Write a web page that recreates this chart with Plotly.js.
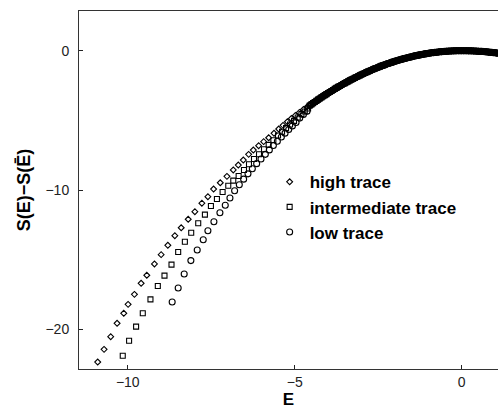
<!DOCTYPE html>
<html>
<head>
<meta charset="utf-8">
<script src="https://cdn.plot.ly/plotly-3.0.1.min.js"></script>
<style>html,body{margin:0;padding:0;background:#fff;}#chart{width:498px;height:409px;}</style>
</head>
<body>
<div id="chart"></div>
<script>
// shared part of all three traces (they coincide here)
var tailE = [-4.55,-4.50,-4.45,-4.40,-4.35,-4.30,-4.25,-4.20,-4.15,-4.10,-4.05,-4.00,-3.95,-3.90,-3.85,-3.80,-3.75,-3.70,-3.65,-3.60,-3.55,-3.50,-3.45,-3.40,-3.35,-3.30,-3.25,-3.20,-3.15,-3.10,-3.05,-3.00,-2.95,-2.90,-2.85,-2.80,-2.75,-2.70,-2.65,-2.60,-2.55,-2.50,-2.45,-2.40,-2.35,-2.30,-2.25,-2.20,-2.15,-2.10,-2.05,-2.00,-1.95,-1.90,-1.85,-1.80,-1.75,-1.70,-1.65,-1.60,-1.55,-1.50,-1.45,-1.40,-1.35,-1.30,-1.25,-1.20,-1.15,-1.10,-1.05,-1.00,-0.95,-0.90,-0.85,-0.80,-0.75,-0.70,-0.65,-0.60,-0.55,-0.50,-0.45,-0.40,-0.35,-0.30,-0.25,-0.20,-0.15,-0.10,-0.05,0,0.05,0.10,0.15,0.20,0.25,0.30,0.35,0.40,0.45,0.50,0.55,0.60,0.65,0.70,0.75,0.80,0.85,0.90,0.95,1.00,1.05,1.10];
var tailS = [-3.93,-3.85,-3.76,-3.68,-3.60,-3.51,-3.43,-3.35,-3.27,-3.19,-3.12,-3.04,-2.96,-2.89,-2.82,-2.74,-2.67,-2.60,-2.53,-2.46,-2.39,-2.33,-2.26,-2.20,-2.13,-2.07,-2.01,-1.95,-1.89,-1.83,-1.77,-1.71,-1.65,-1.60,-1.54,-1.49,-1.44,-1.39,-1.33,-1.28,-1.24,-1.19,-1.14,-1.09,-1.05,-1.01,-0.96,-0.92,-0.88,-0.84,-0.80,-0.76,-0.72,-0.69,-0.65,-0.62,-0.58,-0.55,-0.52,-0.49,-0.46,-0.43,-0.40,-0.37,-0.35,-0.32,-0.30,-0.27,-0.25,-0.23,-0.21,-0.19,-0.17,-0.15,-0.14,-0.12,-0.11,-0.09,-0.08,-0.07,-0.06,-0.05,-0.04,-0.03,-0.02,-0.02,-0.01,-0.01,0,0,0,0,0,0,0,-0.01,-0.01,-0.01,-0.02,-0.02,-0.03,-0.04,-0.05,-0.05,-0.06,-0.07,-0.08,-0.10,-0.11,-0.12,-0.14,-0.15,-0.17,-0.18];

var highE = [-10.90,-10.71,-10.51,-10.32,-10.12,-9.99,-9.80,-9.60,-9.43,-9.20,-9.00,-8.80,-8.59,-8.40,-8.19,-7.99,-7.78,-7.60,-7.43,-7.23,-7.03,-6.84,-6.69,-6.54,-6.38,-6.24,-6.08,-5.93,-5.78,-5.62,-5.48,-5.35,-5.22,-5.10,-4.98,-4.86,-4.74,-4.63];
var highS = [-22.35,-21.44,-20.53,-19.57,-18.85,-18.21,-17.49,-16.70,-16.12,-15.31,-14.64,-13.97,-13.28,-12.71,-12.10,-11.56,-10.95,-10.48,-9.93,-9.48,-9.02,-8.56,-8.21,-7.85,-7.44,-7.13,-6.82,-6.53,-6.25,-5.93,-5.62,-5.36,-5.10,-4.87,-4.65,-4.43,-4.22,-4.03];

var midE = [-10.15,-9.96,-9.75,-9.55,-9.32,-9.10,-8.90,-8.69,-8.49,-8.29,-8.10,-7.89,-7.69,-7.51,-7.33,-7.16,-6.99,-6.84,-6.68,-6.52,-6.37,-6.22,-6.07,-5.92,-5.78,-5.64,-5.50,-5.38,-5.26,-5.14,-5.02,-4.91,-4.80,-4.70,-4.60];
var midS = [-21.90,-20.82,-19.81,-18.85,-17.85,-16.89,-16.15,-15.36,-14.45,-13.71,-13.07,-12.39,-11.77,-11.15,-10.65,-10.14,-9.69,-9.33,-8.99,-8.56,-8.15,-7.77,-7.43,-7.08,-6.76,-6.43,-6.09,-5.82,-5.56,-5.30,-5.04,-4.80,-4.55,-4.36,-4.15];

var lowE = [-8.67,-8.49,-8.31,-8.11,-7.92,-7.74,-7.60,-7.42,-7.24,-7.08,-6.94,-6.80,-6.66,-6.53,-6.40,-6.27,-6.14,-6.01,-5.88,-5.76,-5.64,-5.52,-5.40,-5.29,-5.18,-5.07,-4.96,-4.85,-4.74,-4.63];
var lowS = [-18.04,-17.03,-16.03,-15.07,-14.31,-13.57,-12.92,-12.28,-11.63,-11.10,-10.57,-10.05,-9.62,-9.22,-8.84,-8.47,-8.11,-7.77,-7.44,-7.12,-6.81,-6.50,-6.20,-5.92,-5.66,-5.40,-5.15,-4.84,-4.58,-4.34];

var names = ['high trace','intermediate trace','low trace'];
var xTicks = [-10,-5,0];
var yTicks = [-20,-10,0];

var traces = [
  {x: highE.concat(tailE), y: highS.concat(tailS), name: names[0], type:'scatter', mode:'markers',
   marker:{symbol:'diamond-open', size:4.5, color:'#000', line:{width:1.1,color:'#000'}}},
  {x: midE.concat(tailE), y: midS.concat(tailS), name: names[1], type:'scatter', mode:'markers',
   marker:{symbol:'square-open', size:5, color:'#000', line:{width:1.1,color:'#000'}}},
  {x: lowE.concat(tailE), y: lowS.concat(tailS), name: names[2], type:'scatter', mode:'markers',
   marker:{symbol:'circle-open', size:6, color:'#000', line:{width:1.1,color:'#000'}}}
];

var layout = {
  width: 498, height: 409,
  margin: {l:79, r:0, t:11, b:40, pad:0},
  paper_bgcolor:'#fff', plot_bgcolor:'#fff',
  font: {family:'Liberation Sans, Arial, sans-serif', color:'#111', size:14},
  showlegend: true,
  legend: {x:0.455, y:0.572, xanchor:'left', yanchor:'top', bgcolor:'rgba(0,0,0,0)',
           font:{size:17, family:'Liberation Sans, Arial, sans-serif', weight:'bold', color:'#000'},
           tracegroupgap:0, itemwidth:30},
  xaxis: {range:[-11.46,1.087], tickvals:xTicks, ticks:'inside', ticklen:4, tickcolor:'#222',
          showline:true, linecolor:'#333', linewidth:1, mirror:true, showgrid:false, zeroline:false,
          tickfont:{size:14, color:'#222'},
          title:{text:'<b>E</b>', font:{size:17, color:'#000'}, standoff:2}},
  yaxis: {range:[-22.85,2.85], tickvals:yTicks, ticks:'inside', ticklen:4, tickcolor:'#222',
          showline:true, linecolor:'#333', linewidth:1, mirror:false, showgrid:false, zeroline:false,
          tickfont:{size:14, color:'#222'}, ticklabelstandoff:6,
          title:{text:'<b>S(E)\u2212S(\u0112)</b>', font:{size:18, color:'#000'}, standoff:10}}
};

Plotly.newPlot('chart', traces, layout, {displayModeBar:false, staticPlot:true});
</script>
</body>
</html>
